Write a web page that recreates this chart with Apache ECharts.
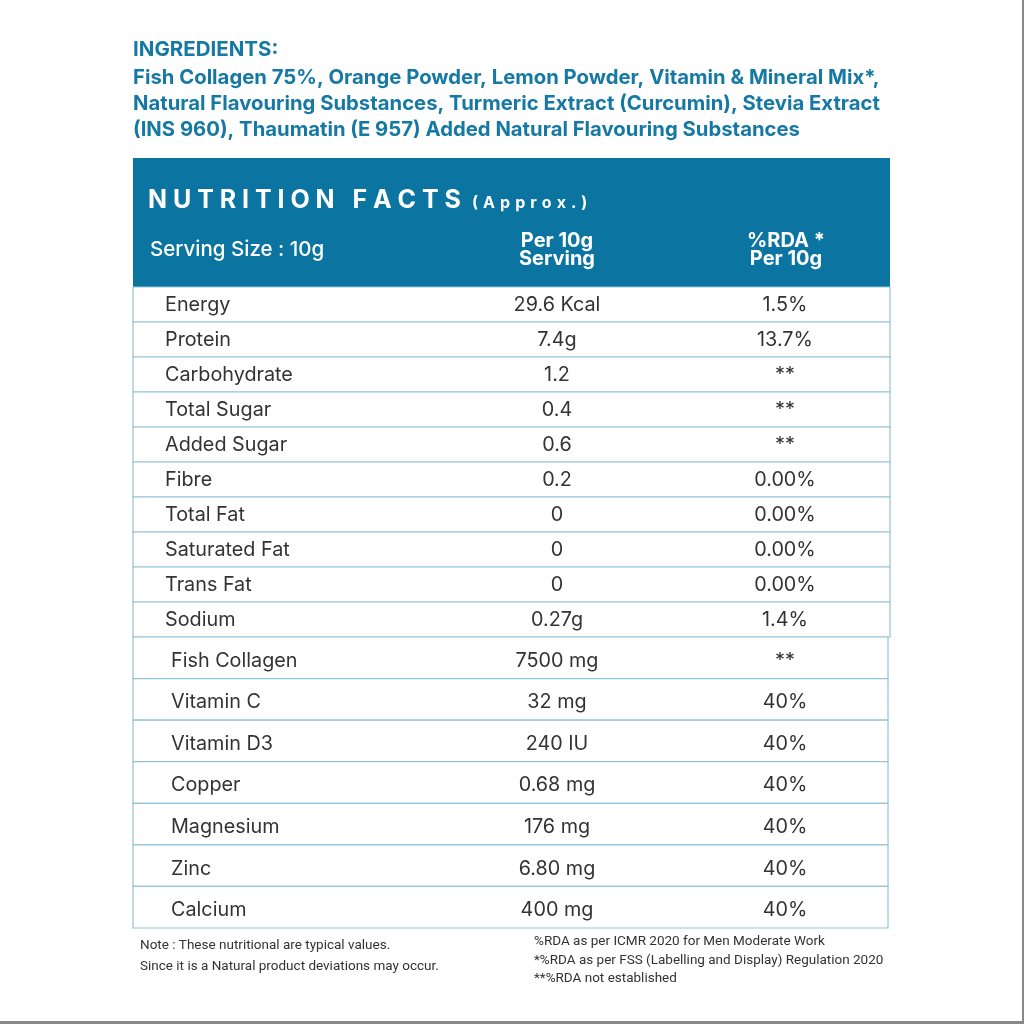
<!DOCTYPE html>
<html>
<head>
<meta charset="utf-8">
<script src="https://cdn.jsdelivr.net/npm/echarts@6/dist/echarts.min.js"></script>
<style>
  html, body { margin: 0; padding: 0; background: #fff; }
  #main { width: 1024px; height: 1024px; }
</style>
</head>
<body>
<div id="main"></div>
<script>
// ---- data ----
const ingredientLines = [
  'Fish Collagen 75%, Orange Powder, Lemon Powder, Vitamin & Mineral Mix*,',
  'Natural Flavouring Substances, Turmeric Extract (Curcumin), Stevia Extract',
  '(INS 960), Thaumatin (E 957) Added Natural Flavouring Substances'
];

const nutrients = ['Energy', 'Protein', 'Carbohydrate', 'Total Sugar', 'Added Sugar',
  'Fibre', 'Total Fat', 'Saturated Fat', 'Trans Fat', 'Sodium'];
const nutrientPerServing = ['29.6 Kcal', '7.4g', '1.2', '0.4', '0.6', '0.2', '0', '0', '0', '0.27g'];
const nutrientRda = ['1.5%', '13.7%', '**', '**', '**', '0.00%', '0.00%', '0.00%', '0.00%', '1.4%'];

const extras = ['Fish Collagen', 'Vitamin C', 'Vitamin D3', 'Copper', 'Magnesium', 'Zinc', 'Calcium'];
const extrasPerServing = ['7500 mg', '32 mg', '240 IU', '0.68 mg', '176 mg', '6.80 mg', '400 mg'];
const extrasRda = ['**', '40%', '40%', '40%', '40%', '40%', '40%'];

const notesLeft = ['Note : These nutritional are typical values.',
  'Since it is a Natural product deviations may occur.'];
const notesRight = ['%RDA as per ICMR 2020 for Men Moderate Work',
  '*%RDA as per FSS (Labelling and Display) Regulation 2020',
  '**%RDA not established'];

// ---- style ----
const BLUE = '#0c74a0';
const TEXT_BLUE = '#1679a4';
const LINE = '#93c4d9';
const FONT = 'Inter, "Open Sans", sans-serif';
const NOTE_FONT = '"Liberation Sans Narrow", Roboto, sans-serif';

// fake letter spacing with narrow spaces
function spaced(s, gap) {
  return s.split('').join(gap);
}

function tableRenderer(names, per, rda, inset, dy) {
  return function (params, api) {
    const i = api.value(1);
    const c = api.coord([0, i]);
    const h = api.size([0, 1])[1];
    const cs = params.coordSys;
    const top = c[1] - h / 2;
    const txt = (x, s, align) => ({
      type: 'text',
      style: {
        x: x, y: c[1] + dy, text: s, align: align, verticalAlign: 'middle',
        fill: '#333', font: '400 19.8px ' + FONT
      }
    });
    return {
      type: 'group',
      children: [
        { type: 'rect', shape: { x: cs.x, y: top, width: cs.width, height: h },
          style: { fill: '#fff', stroke: LINE, lineWidth: 1.2 } },
        txt(cs.x + inset, names[i], 'left'),
        txt(cs.x + 424, per[i], 'center'),
        txt(cs.x + 652, rda[i], 'center')
      ]
    };
  };
}

const chart = echarts.init(document.getElementById('main'), null, { renderer: 'canvas' });

const titles = [
  { text: 'INGREDIENTS:', left: 133, top: 39, padding: 0,
    textStyle: { color: TEXT_BLUE, fontSize: 20.5, fontWeight: 700, fontFamily: FONT } }
];
ingredientLines.forEach((l, k) => {
  titles.push({ text: l, left: 133, top: 68 + k * 26, padding: 0,
    textStyle: { color: TEXT_BLUE, fontSize: 20.3, fontWeight: 700, fontFamily: FONT } });
});
notesLeft.forEach((l, k) => {
  titles.push({ text: l, left: 140, top: 939 + k * 21, padding: 0,
    textStyle: { color: '#333', fontSize: 13.5, fontWeight: 400, fontFamily: NOTE_FONT } });
});
notesRight.forEach((l, k) => {
  titles.push({ text: l, left: 534, top: 935 + k * 18.5, padding: 0,
    textStyle: { color: '#333', fontSize: 13.5, fontWeight: 400, fontFamily: NOTE_FONT } });
});

const option = {
  backgroundColor: '#fff',
  animation: false,
  title: titles,
  grid: [
    { left: 133, top: 287, width: 757, height: 350 },
    { left: 133, top: 637, width: 755, height: 291 }
  ],
  xAxis: [
    { gridIndex: 0, type: 'value', min: 0, max: 1, show: false },
    { gridIndex: 1, type: 'value', min: 0, max: 1, show: false }
  ],
  yAxis: [
    { gridIndex: 0, type: 'category', data: nutrients, inverse: true, show: false },
    { gridIndex: 1, type: 'category', data: extras, inverse: true, show: false }
  ],
  graphic: [
    { type: 'rect', shape: { x: 133, y: 158, width: 757, height: 129 }, style: { fill: BLUE } },
    { type: 'text', style: { x: 148, y: 200, text: spaced('NUTRITION FACTS', '\u2009\u200a'), verticalAlign: 'middle',
        fill: '#fff', font: '700 25px ' + FONT } },
    { type: 'text', style: { x: 472, y: 203, text: spaced('(Approx.)', '\u2009\u2009'), verticalAlign: 'middle',
        fill: '#fff', font: '700 16px ' + FONT } },
    { type: 'text', style: { x: 150, y: 250, text: 'Serving Size : 10g', verticalAlign: 'middle',
        fill: '#fff', font: '500 20.5px ' + FONT } },
    { type: 'text', style: { x: 557, y: 250, text: 'Per 10g\nServing', align: 'center', verticalAlign: 'middle',
        fill: '#fff', font: '700 20px ' + FONT, lineHeight: 18 } },
    { type: 'text', style: { x: 786, y: 250, text: '%RDA *\nPer 10g', align: 'center', verticalAlign: 'middle',
        fill: '#fff', font: '700 20px ' + FONT, lineHeight: 18 } },
    { type: 'rect', shape: { x: 1022, y: 0, width: 2, height: 1024 }, style: { fill: '#888' } },
    { type: 'rect', shape: { x: 0, y: 1021, width: 1024, height: 3 }, style: { fill: '#888' } }
  ],
  series: [
    { type: 'custom', xAxisIndex: 0, yAxisIndex: 0,
      renderItem: tableRenderer(nutrients, nutrientPerServing, nutrientRda, 32, 1),
      data: nutrients.map((n, i) => [0, i]), encode: { x: 0, y: 1 } },
    { type: 'custom', xAxisIndex: 1, yAxisIndex: 1,
      renderItem: tableRenderer(extras, extrasPerServing, extrasRda, 38, 3),
      data: extras.map((n, i) => [0, i]), encode: { x: 0, y: 1 } }
  ]
};

chart.setOption(option);
</script>
</body>
</html>
